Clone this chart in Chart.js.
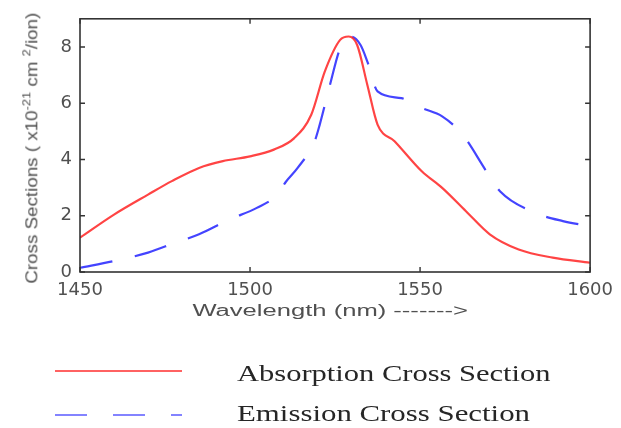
<!DOCTYPE html>
<html>
<head>
<meta charset="utf-8">
<script src="https://cdn.jsdelivr.net/npm/chart.js@4/dist/chart.umd.min.js"></script>
<style>
  html, body { margin:0; padding:0; background:#fff; }
  #wrap { position:relative; width:621px; height:428px; overflow:hidden; }
  #c { position:absolute; left:0; top:0; }
  .ttl { position:absolute; white-space:nowrap; font-family:"Liberation Sans", Arial, sans-serif; color:#505050; font-size:16px; line-height:1; }
  .ttl sup { font-size:11px; position:relative; top:-1px; }
  .leg { position:absolute; white-space:nowrap; font-family:"Liberation Serif", "Times New Roman", serif; color:#262626; font-size:24px; line-height:1; transform-origin:0 50%; }
  svg { position:absolute; left:0; top:0; }
</style>
</head>
<body>
<div id="wrap">
  <canvas id="c" width="621" height="428"></canvas>
  <div id="ytitle" class="ttl">Cross Sections ( x10<sup>-21</sup> cm <sup>2</sup>/ion)</div>
  <div id="xtitle" class="ttl">Wavelength (nm) -------&gt;</div>
  <svg width="621" height="428">
    <line x1="55" y1="371" x2="182" y2="371" stroke="rgba(255,70,70,0.85)" stroke-width="2"/>
    <line x1="55" y1="415" x2="182" y2="415" stroke="rgba(90,90,255,0.75)" stroke-width="2" stroke-dasharray="32 26"/>
  </svg>
  <div id="leg1" class="leg">Absorption Cross Section</div>
  <div id="leg2" class="leg">Emission Cross Section</div>
</div>
<script>
// ---- data ----
const absWavelength = [1450,1460,1470,1477,1485,1492,1500,1507,1513,1518,1522,1526.5,1529,1531.5,1534.5,1537.5,1542.5,1550.5,1556.5,1563.5,1570.5,1579,1589,1600];
const absValues     = [1.22,2.04,2.75,3.23,3.70,3.94,4.11,4.35,4.76,5.59,7.13,8.25,8.37,8.07,6.65,5.24,4.65,3.58,2.99,2.16,1.34,0.80,0.51,0.33];
const emiWavelength = [1450,1460,1470,1478,1485,1494,1502,1508,1510.5,1514,1519,1520.5,1523.5,1526.5,1529.5,1532.5,1534.5,1537.5,1544.5,1550.5,1556.5,1562.5,1569.5,1573.5,1584,1592,1600];
const emiValues     = [0.15,0.39,0.69,1.04,1.34,1.87,2.28,2.75,3.20,3.70,4.65,5.24,6.65,7.95,8.37,8.07,7.48,6.42,6.18,5.83,5.53,4.88,3.58,2.87,2.10,1.81,1.63];
const xTicks = [1450,1500,1550,1600];
const yTicks = [0,2,4,6,8];
const seriesNames = ['Absorption Cross Section','Emission Cross Section'];

const toPts = (xs, ys) => xs.map((x, i) => ({x, y: ys[i]}));

const frame = {
  id: 'frame',
  afterDraw(chart) {
    const {ctx, chartArea: a, scales} = chart;
    ctx.save();
    ctx.strokeStyle = '#333';
    ctx.lineWidth = 1.6;
    ctx.strokeRect(a.left, a.top, a.right - a.left, a.bottom - a.top);
    ctx.lineWidth = 1.4;
    ctx.beginPath();
    const L = 5;
    xTicks.forEach(v => {
      const px = scales.x.getPixelForValue(v);
      ctx.moveTo(px, a.bottom); ctx.lineTo(px, a.bottom - L);
      ctx.moveTo(px, a.top); ctx.lineTo(px, a.top + L);
    });
    yTicks.forEach(v => {
      const py = scales.y.getPixelForValue(v);
      ctx.moveTo(a.left, py); ctx.lineTo(a.left + L, py);
      ctx.moveTo(a.right, py); ctx.lineTo(a.right - L, py);
    });
    ctx.stroke();
    ctx.restore();
  }
};

new Chart(document.getElementById('c'), {
  type: 'line',
  data: {
    datasets: [
      { label: seriesNames[0], data: toPts(absWavelength, absValues), borderColor: 'rgba(255,35,35,0.85)', borderWidth: 2.2, pointRadius: 0, cubicInterpolationMode: 'monotone', fill: false },
      { label: seriesNames[1], data: toPts(emiWavelength, emiValues), borderColor: 'rgba(35,35,255,0.85)', borderWidth: 2.2, borderDash: [33, 23], pointRadius: 0, cubicInterpolationMode: 'monotone', fill: false }
    ]
  },
  options: {
    responsive: false,
    animation: false,
    layout: { padding: { top: 17, right: 28, left: 0, bottom: 0 } },
    plugins: { legend: { display: false }, tooltip: { enabled: false } },
    scales: {
      x: {
        type: 'linear', min: 1450, max: 1600,
        afterBuildTicks: s => { s.ticks = xTicks.map(v => ({value: v})); },
        afterFit: s => { s.height = 156; },
        grid: { display: false, drawTicks: false },
        border: { display: false },
        ticks: { padding: 8, color: '#505050', font: { family: 'DejaVu Sans', size: 18 }, maxRotation: 0, autoSkip: false, callback: v => String(v) }
      },
      y: {
        type: 'linear', min: 0, max: 9,
        afterBuildTicks: s => { s.ticks = yTicks.map(v => ({value: v})); },
        afterFit: s => { s.width = 80; },
        grid: { display: false, drawTicks: false },
        border: { display: false },
        ticks: { padding: 8, color: '#505050', font: { family: 'DejaVu Sans', size: 18 }, callback: v => String(v) }
      }
    }
  },
  plugins: [frame]
});

// ---- place HTML titles / legend text ----
function fitH(el, left, cy, target) {
  const w = el.offsetWidth, h = el.offsetHeight;
  el.style.left = left + 'px';
  el.style.top = (cy - h / 2) + 'px';
  el.style.transform = 'scaleX(' + (target / w) + ')';
}
const xt = document.getElementById('xtitle');
{
  const w = xt.offsetWidth, h = xt.offsetHeight, t = 275;
  xt.style.left = (330 - w / 2) + 'px';
  xt.style.top = (311 - h / 2) + 'px';
  xt.style.transform = 'scaleX(' + (t / w) + ')';
}
const yt = document.getElementById('ytitle');
{
  const w = yt.offsetWidth, h = yt.offsetHeight, t = 271;
  yt.style.left = (31 - w / 2) + 'px';
  yt.style.top = (148 - h / 2) + 'px';
  yt.style.transform = 'rotate(-90deg) scaleX(' + (t / w) + ')';
}
fitH(document.getElementById('leg1'), 237, 373, 314);
fitH(document.getElementById('leg2'), 237, 413, 293);
</script>
</body>
</html>
